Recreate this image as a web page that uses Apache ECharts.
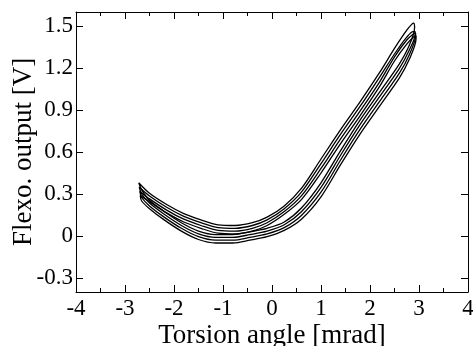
<!DOCTYPE html>
<html>
<head>
<meta charset="utf-8">
<script src="https://cdn.jsdelivr.net/npm/echarts@6/dist/echarts.min.js"></script>
<style>
  html, body { margin: 0; padding: 0; background: #fff; }
  #chart { width: 473px; height: 346px; }
</style>
</head>
<body>
<div id="chart"></div>
<script>
// tick values
const yTickValues = [-0.3, 0, 0.3, 0.6, 0.9, 1.2, 1.5];

// four measured cycles, [torsion angle mrad, flexo output V]
const loop1 = [
  [-2.72, 0.38], [-2.5, 0.305], [-2.15, 0.225], [-1.8, 0.16], [-1.45, 0.115], [-1.1, 0.08],
  [-0.75, 0.075], [-0.4, 0.095], [-0.1, 0.135], [0.25, 0.215], [0.6, 0.34], [1.0, 0.55],
  [1.4, 0.76], [1.8, 0.96], [2.2, 1.17], [2.5, 1.34], [2.75, 1.47], [2.86, 1.515], [2.89, 1.52],
  [2.91, 1.49], [2.8, 1.36], [2.6, 1.23], [2.2, 1.03], [1.8, 0.83], [1.4, 0.61], [1.0, 0.38],
  [0.6, 0.20], [0.25, 0.10], [-0.1, 0.055], [-0.45, 0.03], [-0.8, 0.01], [-1.15, 0.01],
  [-1.5, 0.035], [-1.85, 0.095], [-2.2, 0.175], [-2.5, 0.255], [-2.66, 0.33], [-2.72, 0.38]
];
const loop2 = [
  [-2.71, 0.35], [-2.5, 0.285], [-2.15, 0.205], [-1.8, 0.14], [-1.45, 0.095], [-1.1, 0.06],
  [-0.75, 0.055], [-0.4, 0.075], [-0.1, 0.115], [0.25, 0.195], [0.6, 0.313], [1.0, 0.517],
  [1.4, 0.727], [1.8, 0.927], [2.2, 1.137], [2.5, 1.30], [2.75, 1.42], [2.88, 1.46], [2.92, 1.46],
  [2.92, 1.44], [2.8, 1.327], [2.6, 1.197], [2.2, 0.997], [1.8, 0.797], [1.4, 0.577], [1.0, 0.347],
  [0.6, 0.173], [0.25, 0.08], [-0.1, 0.035], [-0.45, 0.01], [-0.8, -0.01], [-1.15, -0.01],
  [-1.5, 0.015], [-1.85, 0.075], [-2.2, 0.155], [-2.5, 0.235], [-2.66, 0.30], [-2.71, 0.35]
];
const loop3 = [
  [-2.70, 0.32], [-2.5, 0.265], [-2.15, 0.185], [-1.8, 0.12], [-1.45, 0.075], [-1.1, 0.04],
  [-0.75, 0.035], [-0.4, 0.055], [-0.1, 0.095], [0.25, 0.175], [0.6, 0.287], [1.0, 0.483],
  [1.4, 0.693], [1.8, 0.893], [2.2, 1.103], [2.5, 1.28], [2.75, 1.40], [2.89, 1.445], [2.93, 1.45],
  [2.93, 1.43], [2.8, 1.293], [2.6, 1.163], [2.2, 0.963], [1.8, 0.763], [1.4, 0.543], [1.0, 0.313],
  [0.6, 0.147], [0.25, 0.06], [-0.1, 0.015], [-0.45, -0.01], [-0.8, -0.03], [-1.15, -0.03],
  [-1.5, -0.005], [-1.85, 0.055], [-2.2, 0.135], [-2.5, 0.215], [-2.66, 0.275], [-2.70, 0.32]
];
const loop4 = [
  [-2.69, 0.29], [-2.5, 0.245], [-2.15, 0.165], [-1.8, 0.10], [-1.45, 0.055], [-1.1, 0.02],
  [-0.75, 0.015], [-0.4, 0.035], [-0.1, 0.075], [0.25, 0.155], [0.6, 0.26], [1.0, 0.45],
  [1.4, 0.66], [1.8, 0.86], [2.2, 1.07], [2.5, 1.25], [2.75, 1.37], [2.9, 1.425], [2.94, 1.43],
  [2.94, 1.41], [2.8, 1.26], [2.6, 1.13], [2.2, 0.93], [1.8, 0.73], [1.4, 0.51], [1.0, 0.28],
  [0.6, 0.12], [0.25, 0.04], [-0.1, -0.005], [-0.45, -0.03], [-0.8, -0.05], [-1.15, -0.05],
  [-1.5, -0.025], [-1.85, 0.035], [-2.2, 0.115], [-2.5, 0.195], [-2.66, 0.25], [-2.69, 0.29]
];
const loops = [loop1, loop2, loop3, loop4];

const FONT = '"Liberation Serif", "Times New Roman", serif';
const chart = echarts.init(document.getElementById('chart'));

const xBase = {
  type: 'value', min: -4, max: 4, interval: 1,
  axisLine: { show: true, onZero: false, lineStyle: { color: '#000', width: 1 } },
  axisTick: { show: true, inside: true, length: 7, lineStyle: { color: '#000' } },
  minorTick: { show: true, splitNumber: 2, length: 4, lineStyle: { color: '#000' } },
  splitLine: { show: false },
  minorSplitLine: { show: false }
};
const yBase = {
  type: 'value', min: -0.4, max: 1.6,
  axisLine: { show: true, onZero: false, lineStyle: { color: '#000', width: 1 } },
  axisTick: { show: true, inside: true, length: 7, customValues: yTickValues, lineStyle: { color: '#000' } },
  splitLine: { show: false }
};

chart.setOption({
  animation: false,
  backgroundColor: '#fff',
  grid: { left: 76, right: 5, top: 12, bottom: 54, outerBoundsMode: 'none' },
  xAxis: [
    Object.assign({}, xBase, {
      position: 'bottom',
      name: 'Torsion angle [mrad]', nameLocation: 'middle', nameGap: 30, nameMoveOverlap: false,
      nameTextStyle: { fontFamily: FONT, fontSize: 27, color: '#000' },
      axisLabel: { fontFamily: FONT, fontSize: 23, color: '#000', margin: 5 }
    }),
    Object.assign({}, xBase, { position: 'top', axisLabel: { show: false } })
  ],
  yAxis: [
    Object.assign({}, yBase, {
      position: 'left',
      name: 'Flexo. output [V]', nameLocation: 'middle', nameGap: 39, nameMoveOverlap: false,
      nameTextStyle: { fontFamily: FONT, fontSize: 27, color: '#000' },
      axisLabel: {
        fontFamily: FONT, fontSize: 23, color: '#000', margin: 3,
        customValues: yTickValues,
        formatter: v => String(+v.toFixed(1))
      }
    }),
    Object.assign({}, yBase, { position: 'right', axisLabel: { show: false } })
  ],
  series: loops.map(d => ({
    type: 'line',
    data: d,
    xAxisIndex: 0,
    yAxisIndex: 0,
    smooth: 0.3,
    showSymbol: false,
    lineStyle: { color: '#000', width: 1.3 }
  }))
});
</script>
</body>
</html>
